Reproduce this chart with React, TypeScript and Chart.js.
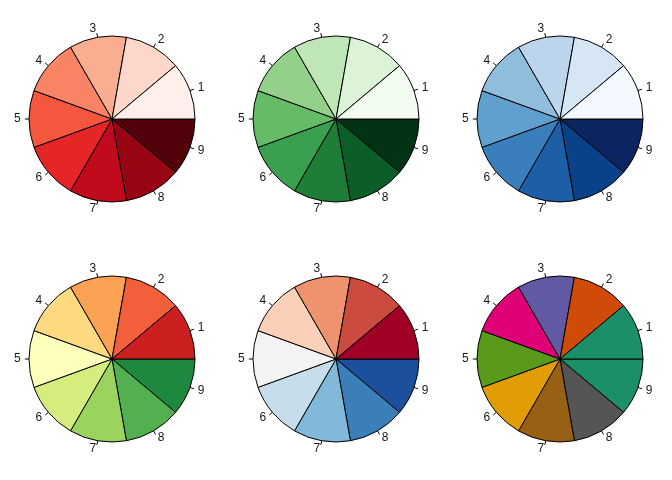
import React, { useEffect, useRef } from "react";
import { Chart, registerables } from "chart.js";

Chart.register(...registerables);

const sliceLabels = ["1", "2", "3", "4", "5", "6", "7", "8", "9"];
const sliceValues = [1, 1, 1, 1, 1, 1, 1, 1, 1];

const redsColors = ["#FFF0EB", "#FDD7C9", "#FBAD92", "#F88465", "#F5563E", "#E62526", "#C10A1C", "#980513", "#520009"];
const greensColors = ["#F3FCF0", "#DDF3D8", "#BEE6B6", "#93D18A", "#66BB66", "#3A9F4F", "#1E7E38", "#0C5E29", "#033315"];
const bluesColors = ["#F3F9FF", "#D7E6F5", "#BBD5EC", "#8FBEDC", "#5FA0CF", "#3A7EBC", "#1C5FA7", "#0A428A", "#0B2560"];
const rdylgnColors = ["#CB1F20", "#F1603A", "#FBA254", "#FDDA80", "#FFFFBC", "#D5ED7D", "#9AD35E", "#53B051", "#1F883F"];
const rdbuColors = ["#A00025", "#CB4B3F", "#EF936F", "#FBD0B8", "#F3F3F3", "#C6DDEB", "#82B8D9", "#3A7FB8", "#1C4F9C"];
const dark2Colors = ["#1B8F67", "#D04A08", "#6159A4", "#DF0077", "#5A9A1A", "#E09D06", "#976014", "#555555", "#1B8F67"];

const palettes = [redsColors, greensColors, bluesColors, rdylgnColors, rdbuColors, dark2Colors];

const labelPlugin = {
  id: "outerLabels",
  afterDraw(chart: any) {
    const ctx = chart.ctx;
    const meta = chart.getDatasetMeta(0);
    const labels = chart.data.labels as string[];
    ctx.save();
    ctx.strokeStyle = "#000";
    ctx.lineWidth = 1;
    ctx.fillStyle = "#1a1a1a";
    ctx.font = "12px 'Liberation Sans', Arial, sans-serif";
    ctx.textBaseline = "middle";
    meta.data.forEach((arc: any, i: number) => {
      const { x, y, startAngle, endAngle, outerRadius } = arc.getProps(
        ["x", "y", "startAngle", "endAngle", "outerRadius"],
        true
      );
      const a = (startAngle + endAngle) / 2;
      const c = Math.cos(a);
      const s = Math.sin(a);
      ctx.beginPath();
      ctx.moveTo(x + c * outerRadius, y + s * outerRadius);
      ctx.lineTo(x + c * outerRadius * 1.05, y + s * outerRadius * 1.05);
      ctx.stroke();
      ctx.textAlign = c < -1e-9 ? "right" : "left";
      ctx.fillText(labels[i], x + c * outerRadius * 1.1, y + s * outerRadius * 1.1);
    });
    ctx.restore();
  },
};

function PiePanel({ colors }: { colors: string[] }) {
  const ref = useRef<HTMLCanvasElement>(null);
  useEffect(() => {
    if (!ref.current) return;
    const chart = new Chart(ref.current, {
      type: "pie",
      data: {
        labels: [...sliceLabels].reverse(),
        datasets: [
          {
            data: [...sliceValues].reverse(),
            backgroundColor: [...colors].reverse(),
            borderColor: "#000",
            borderWidth: 1,
          },
        ],
      },
      options: {
        responsive: false,
        animation: false,
        rotation: 90,
        radius: 83,
        layout: { padding: { left: 29, right: 29, top: 36, bottom: 38 } },
        plugins: {
          legend: { display: false },
          tooltip: { enabled: false },
        },
      },
      plugins: [labelPlugin],
    });
    return () => chart.destroy();
  }, [colors]);
  return <canvas ref={ref} width={224} height={240} style={{ width: 224, height: 240, display: "block" }} />;
}

export default function App() {
  return (
    <div style={{ position: "absolute", left: 0, top: 0, width: 672, height: 480, background: "#fff" }}>
      {palettes.map((p, i) => (
        <div
          key={i}
          style={{
            position: "absolute",
            left: (i % 3) * 224,
            top: Math.floor(i / 3) * 240,
            width: 224,
            height: 240,
          }}
        >
          <PiePanel colors={p} />
        </div>
      ))}
    </div>
  );
}
